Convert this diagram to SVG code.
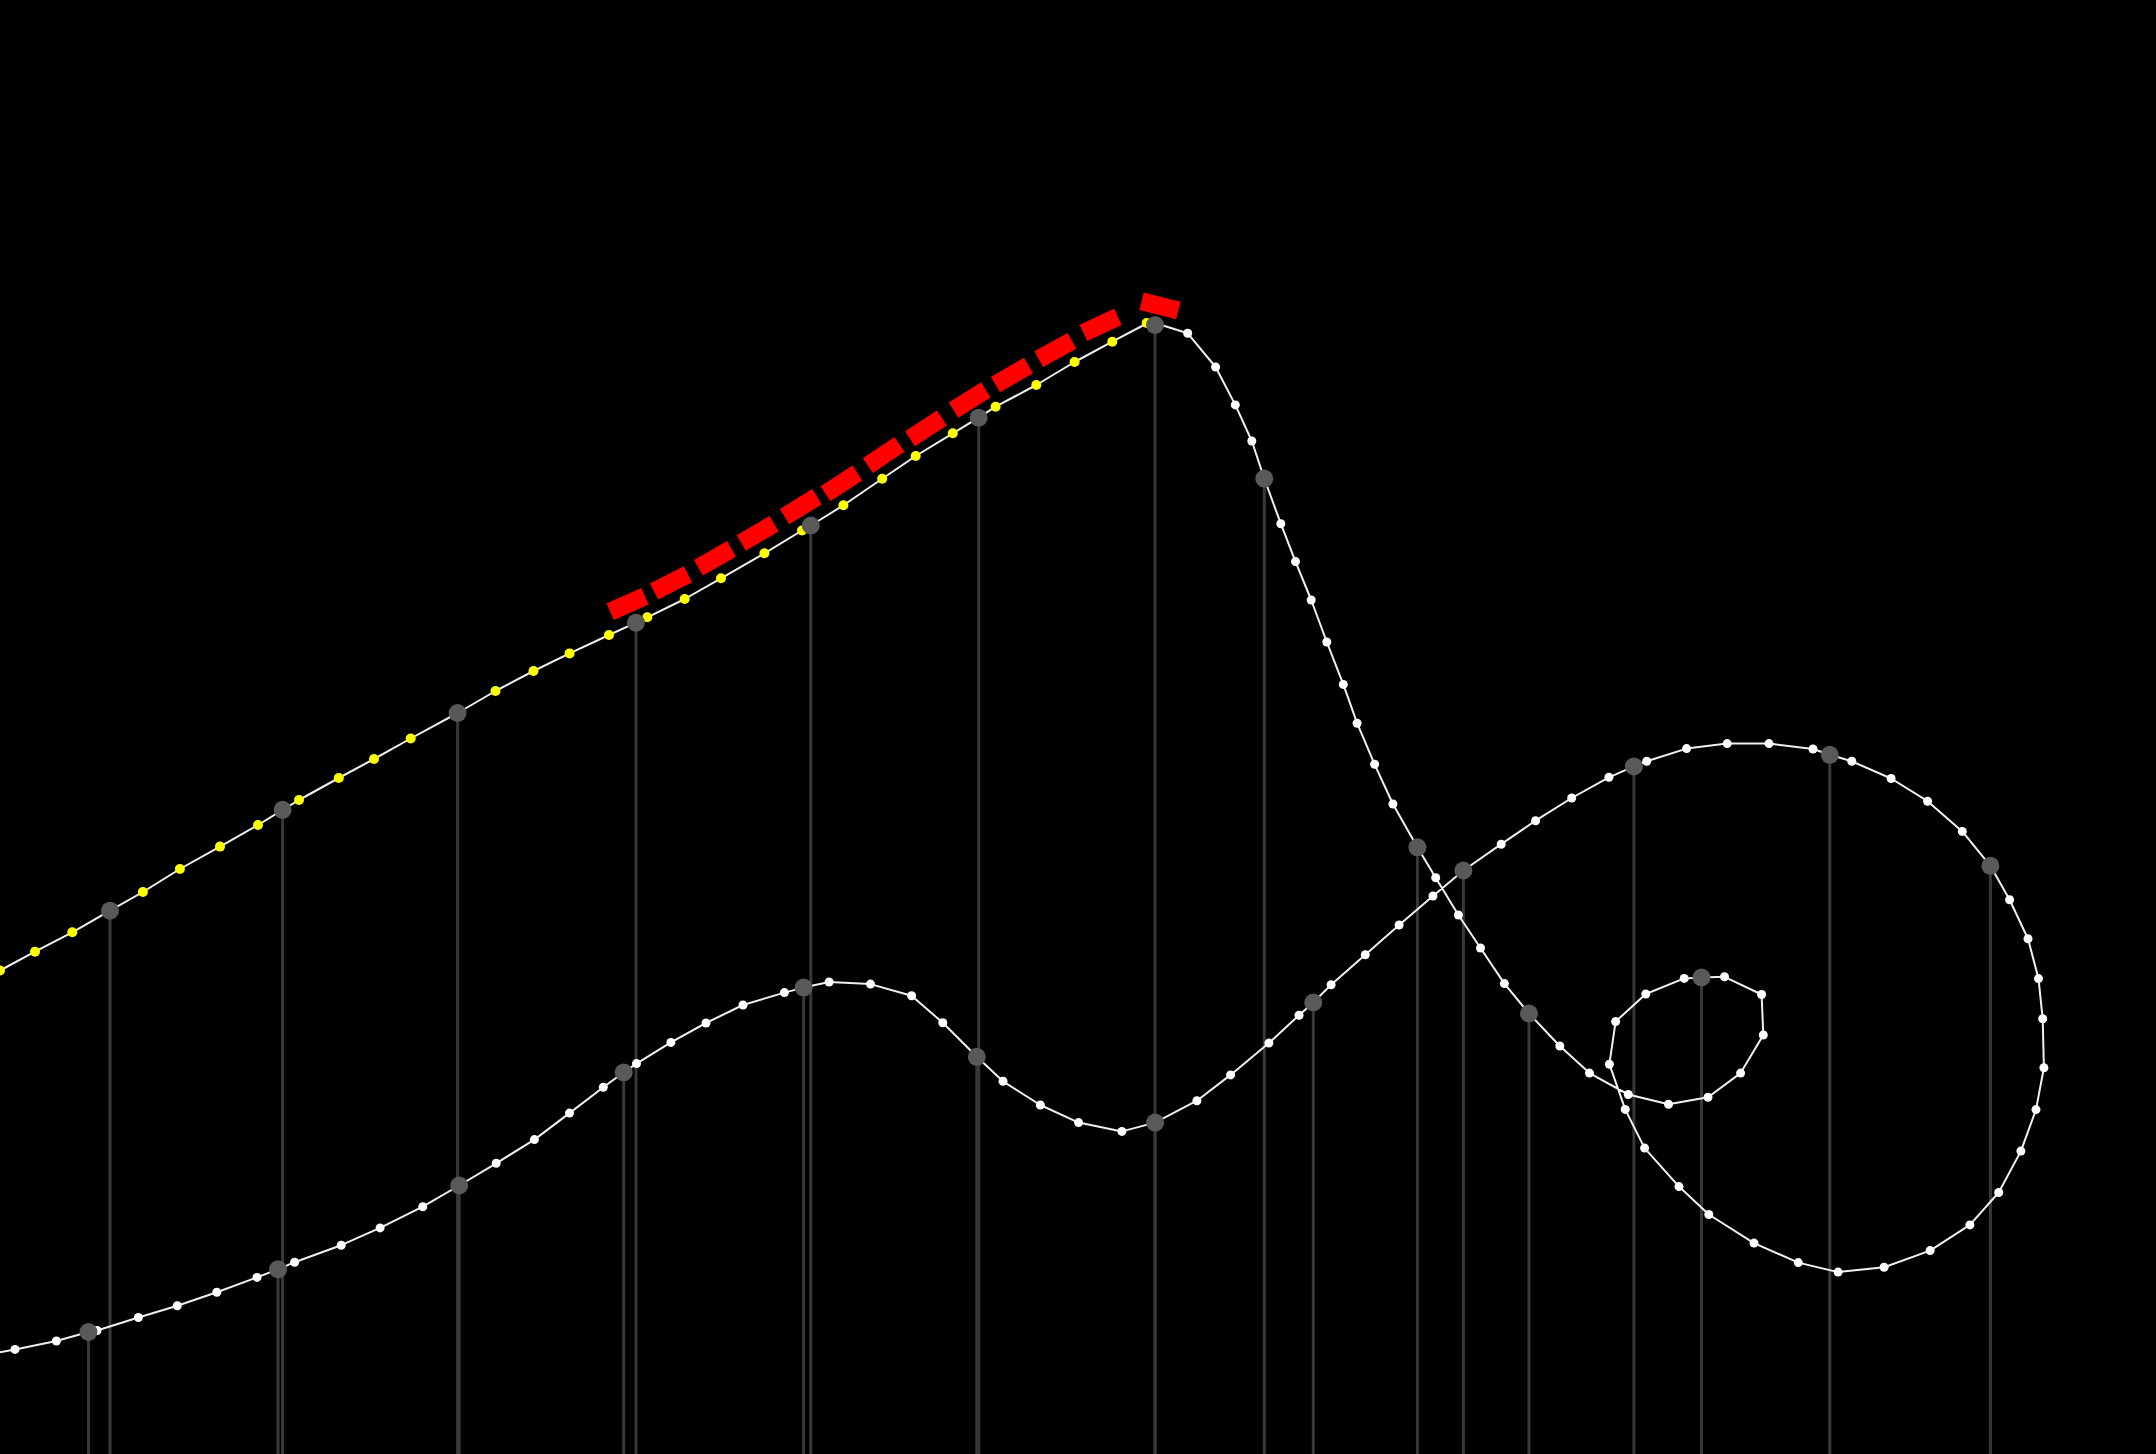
<svg xmlns="http://www.w3.org/2000/svg" width="2156" height="1454" viewBox="0 0 2156 1454">
<style>
.vl{stroke:#383838;stroke-width:3}
.curve{fill:none;stroke:#f0f0f0;stroke-width:2;stroke-linejoin:round}
.w{fill:#fff}
.y{fill:#ffff00}
.g{fill:#595959}
.red{stroke:#ff0000;stroke-width:18;stroke-linecap:butt}
</style>
<rect x="0" y="0" width="2156" height="1454" fill="#000"/>
<g id="verticals">
<line class="vl" x1="110" y1="910.7" x2="110" y2="1454"/>
<line class="vl" x1="282.6" y1="809.8" x2="282.6" y2="1454"/>
<line class="vl" x1="457.6" y1="713" x2="457.6" y2="1454"/>
<line class="vl" x1="636" y1="622.7" x2="636" y2="1454"/>
<line class="vl" x1="810.8" y1="525.5" x2="810.8" y2="1454"/>
<line class="vl" x1="978.7" y1="417.7" x2="978.7" y2="1454"/>
<line class="vl" x1="1155" y1="325" x2="1155" y2="1454"/>
<line class="vl" x1="1264.3" y1="478.6" x2="1264.3" y2="1454"/>
<line class="vl" x1="1417.4" y1="847.3" x2="1417.4" y2="1454"/>
<line class="vl" x1="1529" y1="1013.5" x2="1529" y2="1454"/>
<line class="vl" x1="1701.5" y1="977.5" x2="1701.5" y2="1454"/>
<line class="vl" x1="1990.4" y1="865.8" x2="1990.4" y2="1454"/>
<line class="vl" x1="1829.8" y1="754.8" x2="1829.8" y2="1454"/>
<line class="vl" x1="1633.9" y1="766.4" x2="1633.9" y2="1454"/>
<line class="vl" x1="1463.4" y1="870.5" x2="1463.4" y2="1454"/>
<line class="vl" x1="1313.3" y1="1002.5" x2="1313.3" y2="1454"/>
<line class="vl" x1="1155.1" y1="1122.6" x2="1155.1" y2="1454"/>
<line class="vl" x1="976.8" y1="1056.8" x2="976.8" y2="1454"/>
<line class="vl" x1="803.6" y1="987.6" x2="803.6" y2="1454"/>
<line class="vl" x1="623.7" y1="1072.4" x2="623.7" y2="1454"/>
<line class="vl" x1="459.2" y1="1185.5" x2="459.2" y2="1454"/>
<line class="vl" x1="278" y1="1269.3" x2="278" y2="1454"/>
<line class="vl" x1="88.5" y1="1332" x2="88.5" y2="1454"/>
</g>
<g id="curve">
<polyline class="curve" points="-37,989 0,970.5 35,951.7 72.3,932.3 110,910.7 142.9,892 179.9,869 220,846.6 258,825 282.6,809.8 299,800 338.8,778 374,759 410.7,738.5 457.6,713 495.5,691 533.5,671 569.6,653.4 609,635 636,622.7 647.3,617.3 684.7,599 721,578.3 764.4,553.3 802,530.5 810.8,525.5 843.4,505.3 882.2,478.7 915.7,456 952.8,433.3 978.7,417.7 995.6,406.7 1036.3,385 1074.6,362 1112.3,341.7 1146.7,323.5 1155,323 1187.7,333.3 1215.6,367 1235.3,404.9 1251.8,441 1264.3,478.6 1280.8,523.7 1295.5,561.6 1311.2,600 1326.8,642 1343.3,684.4 1357.1,723.2 1374.6,764.3 1392.9,804 1417.4,847.3 1435.7,877.7 1458.4,915 1480.5,948 1504.4,983.6 1529,1013.5 1559.8,1046 1589.5,1073.1 1628.3,1094.5 1668.5,1104.2 1708,1097.2 1740.6,1073.1 1763.3,1035 1761.6,994.5 1724.5,976.8 1701.5,977.5 1684.2,978.4 1645.8,994 1615.6,1021.6 1609.4,1064.2 1625.2,1109.4 1644.6,1148.1 1679,1186.6 1708.8,1214.5 1754,1243.1 1798.3,1262.6 1838.1,1272.1 1884.1,1267.2 1930.1,1250.6 1969.9,1224.9 1998.7,1192.5 2020.9,1151.1 2036,1109.6 2043.9,1067.7 2042.7,1018.8 2038.5,978.6 2028,938.8 2009.6,899.8 1990.4,865.8 1962.3,831.4 1927.6,801.2 1891.1,778.5 1851.8,761.3 1829.8,754.8 1813,749 1769,743.6 1727.2,743.6 1686.6,748.6 1646.7,761.3 1633.9,766.4 1608.9,777.3 1571.7,798 1535.6,820.7 1501.2,844.2 1463.4,870.5 1433,896 1399.1,925 1365.3,954.8 1331.1,984.8 1313.3,1002.5 1299,1015.2 1268.9,1043.1 1230.6,1074.9 1196.9,1100.7 1155.1,1122.6 1121.9,1131.4 1078.6,1122.6 1040.3,1105 1003,1081.3 976.8,1056.8 942.8,1022.8 911.6,995.8 870.5,984.1 829.1,982 803.6,987.6 784.4,992.6 743,1005 706,1023 670.9,1042.4 636.5,1063.6 623.7,1072.4 603.3,1087.3 569.5,1113.1 534.4,1139.6 496.2,1163.3 459.2,1185.5 422.8,1206.7 380.1,1227.9 341.2,1245.2 294.6,1262.2 278,1269.3 257,1277.4 216.8,1292.2 177.3,1305.7 138.4,1317.5 97,1330.5 88.5,1332 56.4,1341 15,1349.4 -30,1358"/>
</g>
<g id="samples-yellow">
<circle class="y" cx="0" cy="970.5" r="5"/><circle class="y" cx="35" cy="951.7" r="5"/><circle class="y" cx="72.3" cy="932.3" r="5"/><circle class="y" cx="142.9" cy="892" r="5"/><circle class="y" cx="179.9" cy="869" r="5"/><circle class="y" cx="220" cy="846.6" r="5"/><circle class="y" cx="258" cy="825" r="5"/><circle class="y" cx="299" cy="800" r="5"/><circle class="y" cx="338.8" cy="778" r="5"/><circle class="y" cx="374" cy="759" r="5"/><circle class="y" cx="410.7" cy="738.5" r="5"/><circle class="y" cx="495.5" cy="691" r="5"/><circle class="y" cx="533.5" cy="671" r="5"/><circle class="y" cx="569.6" cy="653.4" r="5"/><circle class="y" cx="609" cy="635" r="5"/><circle class="y" cx="647.3" cy="617.3" r="5"/><circle class="y" cx="684.7" cy="599" r="5"/><circle class="y" cx="721" cy="578.3" r="5"/><circle class="y" cx="764.4" cy="553.3" r="5"/><circle class="y" cx="802" cy="530.5" r="5"/><circle class="y" cx="843.4" cy="505.3" r="5"/><circle class="y" cx="882.2" cy="478.7" r="5"/><circle class="y" cx="915.7" cy="456" r="5"/><circle class="y" cx="952.8" cy="433.3" r="5"/><circle class="y" cx="995.6" cy="406.7" r="5"/><circle class="y" cx="1036.3" cy="385" r="5"/><circle class="y" cx="1074.6" cy="362" r="5"/><circle class="y" cx="1112.3" cy="341.7" r="5"/><circle class="y" cx="1146.7" cy="323" r="5"/>
</g>
<g id="samples-white">
<circle class="w" cx="1187.7" cy="333.3" r="4.5"/><circle class="w" cx="1215.6" cy="367" r="4.5"/><circle class="w" cx="1235.3" cy="404.9" r="4.5"/><circle class="w" cx="1251.8" cy="441" r="4.5"/><circle class="w" cx="1280.8" cy="523.7" r="4.5"/><circle class="w" cx="1295.5" cy="561.6" r="4.5"/><circle class="w" cx="1311.2" cy="600" r="4.5"/><circle class="w" cx="1326.8" cy="642" r="4.5"/><circle class="w" cx="1343.3" cy="684.4" r="4.5"/><circle class="w" cx="1357.1" cy="723.2" r="4.5"/><circle class="w" cx="1374.6" cy="764.3" r="4.5"/><circle class="w" cx="1392.9" cy="804" r="4.5"/><circle class="w" cx="1435.7" cy="877.7" r="4.5"/><circle class="w" cx="1458.4" cy="915" r="4.5"/><circle class="w" cx="1480.5" cy="948" r="4.5"/><circle class="w" cx="1504.4" cy="983.6" r="4.5"/><circle class="w" cx="1559.8" cy="1046" r="4.5"/><circle class="w" cx="1589.5" cy="1073.1" r="4.5"/><circle class="w" cx="1628.3" cy="1094.5" r="4.5"/><circle class="w" cx="1668.5" cy="1104.2" r="4.5"/><circle class="w" cx="1708" cy="1097.2" r="4.5"/><circle class="w" cx="1740.6" cy="1073.1" r="4.5"/><circle class="w" cx="1763.3" cy="1035" r="4.5"/><circle class="w" cx="1761.6" cy="994.5" r="4.5"/><circle class="w" cx="1724.5" cy="976.8" r="4.5"/><circle class="w" cx="1684.2" cy="978.4" r="4.5"/><circle class="w" cx="1645.8" cy="994" r="4.5"/><circle class="w" cx="1615.6" cy="1021.6" r="4.5"/><circle class="w" cx="1609.4" cy="1064.2" r="4.5"/><circle class="w" cx="1625.2" cy="1109.4" r="4.5"/><circle class="w" cx="1644.6" cy="1148.1" r="4.5"/><circle class="w" cx="1679" cy="1186.6" r="4.5"/><circle class="w" cx="1708.8" cy="1214.5" r="4.5"/><circle class="w" cx="1754" cy="1243.1" r="4.5"/><circle class="w" cx="1798.3" cy="1262.6" r="4.5"/><circle class="w" cx="1838.1" cy="1272.1" r="4.5"/><circle class="w" cx="1884.1" cy="1267.2" r="4.5"/><circle class="w" cx="1930.1" cy="1250.6" r="4.5"/><circle class="w" cx="1969.9" cy="1224.9" r="4.5"/><circle class="w" cx="1998.7" cy="1192.5" r="4.5"/><circle class="w" cx="2020.9" cy="1151.1" r="4.5"/><circle class="w" cx="2036" cy="1109.6" r="4.5"/><circle class="w" cx="2043.9" cy="1067.7" r="4.5"/><circle class="w" cx="2042.7" cy="1018.8" r="4.5"/><circle class="w" cx="2038.5" cy="978.6" r="4.5"/><circle class="w" cx="2028" cy="938.8" r="4.5"/><circle class="w" cx="2009.6" cy="899.8" r="4.5"/><circle class="w" cx="1962.3" cy="831.4" r="4.5"/><circle class="w" cx="1927.6" cy="801.2" r="4.5"/><circle class="w" cx="1891.1" cy="778.5" r="4.5"/><circle class="w" cx="1851.8" cy="761.3" r="4.5"/><circle class="w" cx="1813" cy="749" r="4.5"/><circle class="w" cx="1769" cy="743.6" r="4.5"/><circle class="w" cx="1727.2" cy="743.6" r="4.5"/><circle class="w" cx="1686.6" cy="748.6" r="4.5"/><circle class="w" cx="1646.7" cy="761.3" r="4.5"/><circle class="w" cx="1608.9" cy="777.3" r="4.5"/><circle class="w" cx="1571.7" cy="798" r="4.5"/><circle class="w" cx="1535.6" cy="820.7" r="4.5"/><circle class="w" cx="1501.2" cy="844.2" r="4.5"/><circle class="w" cx="1433" cy="896" r="4.5"/><circle class="w" cx="1399.1" cy="925" r="4.5"/><circle class="w" cx="1365.3" cy="954.8" r="4.5"/><circle class="w" cx="1331.1" cy="984.8" r="4.5"/><circle class="w" cx="1299" cy="1015.2" r="4.5"/><circle class="w" cx="1268.9" cy="1043.1" r="4.5"/><circle class="w" cx="1230.6" cy="1074.9" r="4.5"/><circle class="w" cx="1196.9" cy="1100.7" r="4.5"/><circle class="w" cx="1121.9" cy="1131.4" r="4.5"/><circle class="w" cx="1078.6" cy="1122.6" r="4.5"/><circle class="w" cx="1040.3" cy="1105" r="4.5"/><circle class="w" cx="1003" cy="1081.3" r="4.5"/><circle class="w" cx="942.8" cy="1022.8" r="4.5"/><circle class="w" cx="911.6" cy="995.8" r="4.5"/><circle class="w" cx="870.5" cy="984.1" r="4.5"/><circle class="w" cx="829.1" cy="982" r="4.5"/><circle class="w" cx="784.4" cy="992.6" r="4.5"/><circle class="w" cx="743" cy="1005" r="4.5"/><circle class="w" cx="706" cy="1023" r="4.5"/><circle class="w" cx="670.9" cy="1042.4" r="4.5"/><circle class="w" cx="636.5" cy="1063.6" r="4.5"/><circle class="w" cx="603.3" cy="1087.3" r="4.5"/><circle class="w" cx="569.5" cy="1113.1" r="4.5"/><circle class="w" cx="534.4" cy="1139.6" r="4.5"/><circle class="w" cx="496.2" cy="1163.3" r="4.5"/><circle class="w" cx="422.8" cy="1206.7" r="4.5"/><circle class="w" cx="380.1" cy="1227.9" r="4.5"/><circle class="w" cx="341.2" cy="1245.2" r="4.5"/><circle class="w" cx="294.6" cy="1262.2" r="4.5"/><circle class="w" cx="257" cy="1277.4" r="4.5"/><circle class="w" cx="216.8" cy="1292.2" r="4.5"/><circle class="w" cx="177.3" cy="1305.7" r="4.5"/><circle class="w" cx="138.4" cy="1317.5" r="4.5"/><circle class="w" cx="97" cy="1330.5" r="4.5"/><circle class="w" cx="56.4" cy="1341" r="4.5"/><circle class="w" cx="15" cy="1349.4" r="4.5"/>
</g>
<g id="nodes">
<g id="node-1"><circle class="g" cx="110" cy="910.7" r="9"/></g>
<g id="node-2"><circle class="g" cx="282.6" cy="809.8" r="9"/></g>
<g id="node-3"><circle class="g" cx="457.6" cy="713" r="9"/></g>
<g id="node-4"><circle class="g" cx="636" cy="622.7" r="9"/></g>
<g id="node-5"><circle class="g" cx="810.8" cy="525.5" r="9"/></g>
<g id="node-6"><circle class="g" cx="978.7" cy="417.7" r="9"/></g>
<g id="node-7"><circle class="g" cx="1155" cy="325" r="9"/></g>
<g id="node-8"><circle class="g" cx="1264.3" cy="478.6" r="9"/></g>
<g id="node-9"><circle class="g" cx="1417.4" cy="847.3" r="9"/></g>
<g id="node-10"><circle class="g" cx="1529" cy="1013.5" r="9"/></g>
<g id="node-11"><circle class="g" cx="1701.5" cy="977.5" r="9"/></g>
<g id="node-12"><circle class="g" cx="1990.4" cy="865.8" r="9"/></g>
<g id="node-13"><circle class="g" cx="1829.8" cy="754.8" r="9"/></g>
<g id="node-14"><circle class="g" cx="1633.9" cy="766.4" r="9"/></g>
<g id="node-15"><circle class="g" cx="1463.4" cy="870.5" r="9"/></g>
<g id="node-16"><circle class="g" cx="1313.3" cy="1002.5" r="9"/></g>
<g id="node-17"><circle class="g" cx="1155.1" cy="1122.6" r="9"/></g>
<g id="node-18"><circle class="g" cx="976.8" cy="1056.8" r="9"/></g>
<g id="node-19"><circle class="g" cx="803.6" cy="987.6" r="9"/></g>
<g id="node-20"><circle class="g" cx="623.7" cy="1072.4" r="9"/></g>
<g id="node-21"><circle class="g" cx="459.2" cy="1185.5" r="9"/></g>
<g id="node-22"><circle class="g" cx="278" cy="1269.3" r="9"/></g>
<g id="node-23"><circle class="g" cx="88.5" cy="1332" r="9"/></g>
</g>
<g id="offset-dashes">
<line class="red" x1="610.2" y1="611.7" x2="645" y2="596.3"/>
<line class="red" x1="654.1" y1="591.4" x2="687.9" y2="574.2"/>
<line class="red" x1="698.5" y1="567.7" x2="731.5" y2="548.9"/>
<line class="red" x1="741.3" y1="542.9" x2="774.1" y2="523.7"/>
<line class="red" x1="784.6" y1="516.6" x2="817" y2="496.8"/>
<line class="red" x1="825.6" y1="493.7" x2="857.4" y2="473"/>
<line class="red" x1="867.9" y1="465.6" x2="899.4" y2="444.4"/>
<line class="red" x1="910.1" y1="438.7" x2="941.9" y2="418"/>
<line class="red" x1="953.6" y1="410.1" x2="985.8" y2="389.9"/>
<line class="red" x1="995.5" y1="384.5" x2="1028.5" y2="365.5"/>
<line class="red" x1="1038.8" y1="359.2" x2="1072" y2="340.8"/>
<line class="red" x1="1083.5" y1="332.8" x2="1117.9" y2="316.8"/>
<line class="red" x1="1141.6" y1="301.2" x2="1178.4" y2="310.4"/>
</g>
</svg>
